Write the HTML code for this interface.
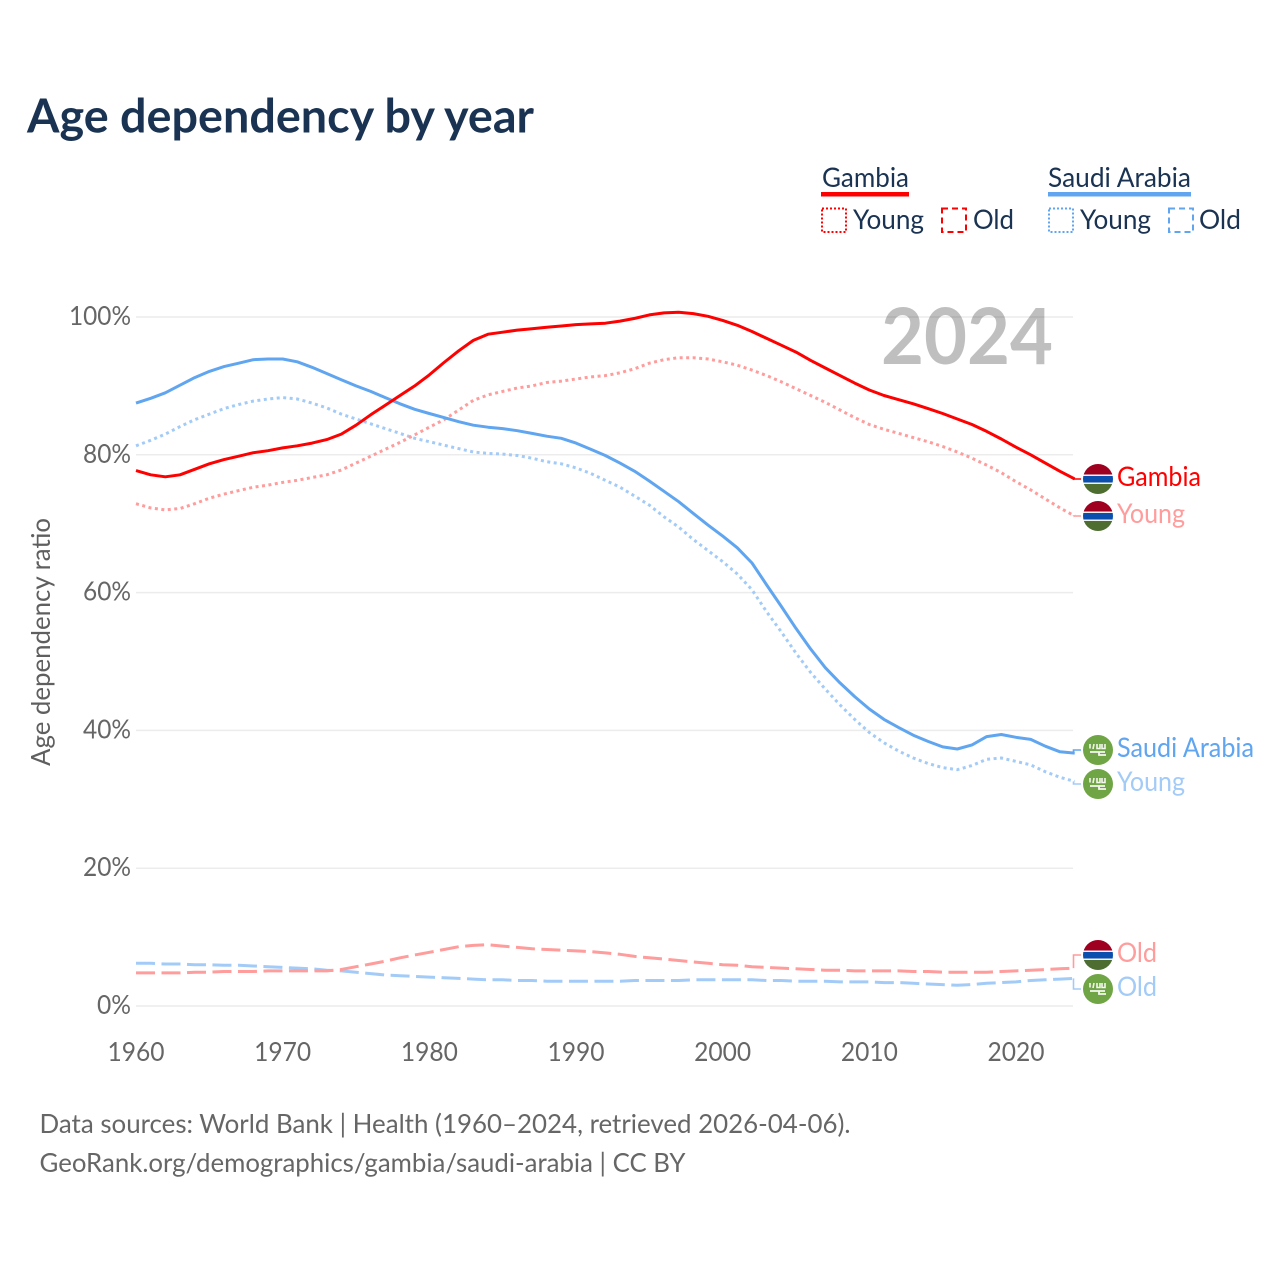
<!DOCTYPE html>
<html lang="en">
<head>
<meta charset="utf-8">
<title>Age dependency by year</title>
<style>
html,body{margin:0;padding:0;background:#fff;width:1280px;height:1280px;overflow:hidden}
svg{display:block}
text{font-family:"Lato","Carlito","Liberation Sans",sans-serif}
</style>
</head>
<body>
<svg id="chart" xmlns="http://www.w3.org/2000/svg" width="1280" height="1280" viewBox="0 0 1280 1280">
  <rect width="1280" height="1280" fill="#fff"/>
  <text x="27" y="132.500" font-size="47" font-weight="700" fill="#1a3352" textLength="507" lengthAdjust="spacingAndGlyphs">Age dependency by year</text>

  <g font-size="27" fill="#1a3352">
    <text x="822" y="187" textLength="87" lengthAdjust="spacingAndGlyphs">Gambia</text>
    <rect x="821" y="192" width="88" height="4.500" fill="#ff0000"/>
    <rect x="822" y="208.500" width="24" height="23.500" fill="none" stroke="#ff0000" stroke-width="2" stroke-dasharray="2,2"/>
    <text x="853" y="229" textLength="71" lengthAdjust="spacingAndGlyphs">Young</text>
    <rect x="942" y="208.500" width="24" height="23.500" fill="none" stroke="#ff0000" stroke-width="2" stroke-dasharray="6,4"/>
    <text x="973" y="229" textLength="41" lengthAdjust="spacingAndGlyphs">Old</text>
    <text x="1048" y="187" textLength="143" lengthAdjust="spacingAndGlyphs">Saudi Arabia</text>
    <rect x="1048" y="192" width="143" height="4.500" fill="#60a5f0"/>
    <rect x="1049" y="208.500" width="24" height="23.500" fill="none" stroke="#60a5f0" stroke-width="2" stroke-dasharray="2,2"/>
    <text x="1080" y="229" textLength="71" lengthAdjust="spacingAndGlyphs">Young</text>
    <rect x="1169" y="208.500" width="24" height="23.500" fill="none" stroke="#60a5f0" stroke-width="2" stroke-dasharray="6,4"/>
    <text x="1199" y="229" textLength="42" lengthAdjust="spacingAndGlyphs">Old</text>
  </g>

  <g id="grid"></g>
  <text x="881" y="364" font-size="78" font-weight="700" fill="#000" fill-opacity="0.25" textLength="172" lengthAdjust="spacingAndGlyphs">2024</text>
  <g id="yticks"></g>
  <g id="xticks"></g>
  <text transform="translate(50,642) rotate(-90)" text-anchor="middle" font-size="26" fill="#5f5f5f" textLength="248" lengthAdjust="spacingAndGlyphs">Age dependency ratio</text>
  <g id="series"></g>
  <g id="endlabels"></g>

  <g font-size="26" fill="#666">
    <text x="39.500" y="1133" textLength="811" lengthAdjust="spacingAndGlyphs">Data sources: World Bank | Health (1960–2024, retrieved 2026-04-06).</text>
    <text x="39.500" y="1172" textLength="646" lengthAdjust="spacingAndGlyphs">GeoRank.org/demographics/gambia/saudi-arabia | CC BY</text>
  </g>
</svg>
<script>
const startYear = 1960;
const xTickYears = [1960, 1970, 1980, 1990, 2000, 2010, 2020];
const yTickValues = [0, 20, 40, 60, 80, 100];

const gambiaTotal = [
  77.7,77.1,76.8,77.1,77.9,78.7,79.3,79.8,80.3,80.6,
  81.0,81.3,81.7,82.2,83.0,84.3,85.8,87.2,88.6,90.0,
  91.6,93.4,95.1,96.6,97.5,97.8,98.1,98.3,98.5,98.7,
  98.9,99.0,99.1,99.4,99.8,100.3,100.6,100.7,100.5,100.1,
  99.5,98.8,97.9,96.9,95.9,94.9,93.7,92.6,91.5,90.4,
  89.4,88.6,88.0,87.4,86.7,86.0,85.2,84.4,83.4,82.3,
  81.1,80.0,78.8,77.6,76.5];
const gambiaYoung = [
  72.9,72.3,72.0,72.2,72.9,73.7,74.3,74.8,75.3,75.6,
  76.0,76.3,76.7,77.1,77.8,78.8,79.8,80.8,81.8,82.9,
  84.0,85.1,86.5,87.9,88.7,89.2,89.7,90.0,90.5,90.7,
  91.0,91.3,91.5,91.9,92.5,93.3,93.8,94.1,94.1,93.9,
  93.5,93.0,92.3,91.5,90.6,89.6,88.6,87.6,86.5,85.4,
  84.4,83.7,83.1,82.5,81.9,81.2,80.4,79.5,78.5,77.4,
  76.1,74.9,73.6,72.3,71.1];
const gambiaOld = [
  4.8,4.8,4.8,4.8,4.9,4.9,5.0,5.0,5.0,5.1,
  5.1,5.1,5.1,5.1,5.3,5.7,6.1,6.5,7.0,7.4,
  7.8,8.2,8.6,8.8,8.9,8.7,8.5,8.3,8.2,8.1,
  8.0,7.9,7.7,7.5,7.2,7.0,6.8,6.6,6.4,6.2,
  6.0,5.9,5.7,5.6,5.5,5.4,5.3,5.2,5.2,5.1,
  5.1,5.1,5.1,5.0,5.0,4.9,4.9,4.9,4.9,5.0,
  5.1,5.2,5.3,5.4,5.5];
const saudiTotal = [
  87.5,88.2,89.0,90.1,91.2,92.1,92.8,93.3,93.8,93.9,
  93.9,93.5,92.7,91.8,90.9,90.0,89.2,88.3,87.4,86.6,
  86.0,85.4,84.8,84.3,84.0,83.8,83.5,83.1,82.7,82.4,
  81.7,80.8,79.9,78.8,77.6,76.2,74.7,73.2,71.5,69.8,
  68.2,66.5,64.3,61.1,58.0,54.8,51.8,49.1,46.9,44.9,
  43.1,41.6,40.4,39.3,38.4,37.6,37.3,37.9,39.1,39.4,
  39.0,38.7,37.7,36.9,36.7];
const saudiYoung = [
  81.3,82.1,83.0,84.1,85.1,85.9,86.7,87.3,87.8,88.1,
  88.3,88.1,87.5,86.8,85.9,85.2,84.5,83.8,83.1,82.4,
  81.9,81.4,80.9,80.4,80.2,80.1,79.9,79.5,79.0,78.7,
  78.1,77.3,76.3,75.3,74.0,72.7,71.0,69.5,67.7,66.1,
  64.5,62.7,60.4,57.2,54.3,51.2,48.4,46.0,43.7,41.6,
  39.7,38.2,37.0,36.0,35.2,34.6,34.3,34.9,35.8,36.0,
  35.5,35.0,34.0,33.2,32.6];
const saudiOld = [
  6.2,6.2,6.1,6.1,6.0,6.0,5.9,5.9,5.8,5.7,
  5.6,5.5,5.4,5.2,5.1,4.9,4.7,4.5,4.4,4.3,
  4.2,4.1,4.0,3.9,3.8,3.8,3.7,3.7,3.6,3.6,
  3.6,3.6,3.6,3.6,3.7,3.7,3.7,3.7,3.8,3.8,
  3.8,3.8,3.8,3.7,3.7,3.6,3.6,3.6,3.5,3.5,
  3.5,3.4,3.4,3.3,3.2,3.1,3.0,3.1,3.3,3.4,
  3.5,3.7,3.8,3.9,4.0];

const NS = 'http://www.w3.org/2000/svg';
const xScale = y => 136 + (y - 1960) * (1016 - 136) / 60;
const yScale = v => 1006 - v * 6.89;
const RED = '#ff0000', BLUE = '#60a5f0', RED_F = '#ff9c9c', BLUE_F = '#a3cbf7';

function mk(tag, attrs, parent) {
  const el = document.createElementNS(NS, tag);
  for (const k in attrs) el.setAttribute(k, attrs[k]);
  parent.appendChild(el);
  return el;
}

const gridG = document.getElementById('grid');
const yG = document.getElementById('yticks');
const xG = document.getElementById('xticks');
const seriesG = document.getElementById('series');
const labelsG = document.getElementById('endlabels');

yTickValues.forEach(v => {
  const line = mk('line', {x1: 136, x2: 1073, y1: yScale(v), y2: yScale(v), stroke: '#ececec', 'stroke-width': 1.5}, gridG);
  
  
  const t = mk('text', {x: 131, y: yScale(v) + 8, 'text-anchor': 'end', 'font-size': 26, fill: '#666'}, yG);
  
  
  t.setAttribute('textLength', String(v).length === 3 ? 62 : (String(v).length === 2 ? 48 : 34));
  t.setAttribute('lengthAdjust', 'spacingAndGlyphs');
  t.textContent = v + '%';
});
xTickYears.forEach(y => {
  const t = mk('text', {x: xScale(y), y: 1061, 'text-anchor': 'middle', 'font-size': 26, fill: '#666', textLength: 57, lengthAdjust: 'spacingAndGlyphs'}, xG);
  
  
  t.textContent = y;
});

const DOT = '3,3.5', DASH = '19,6.5';
const seriesDefs = [
  {name: 'saudi-old-line', values: saudiOld, color: BLUE_F, dash: DASH, labelY: 989},
  {name: 'gambia-old-line', values: gambiaOld, color: RED_F, dash: DASH, labelY: 955},
  {name: 'saudi-young-line', values: saudiYoung, color: BLUE_F, dash: DOT, labelY: 784},
  {name: 'gambia-young-line', values: gambiaYoung, color: RED_F, dash: DOT, labelY: 516},
  {name: 'saudi-total-line', values: saudiTotal, color: BLUE, dash: '', labelY: 750},
  {name: 'gambia-total-line', values: gambiaTotal, color: RED, dash: '', labelY: 479}
];
seriesDefs.forEach(s => {
  const pts = s.values.map((v, i) => xScale(startYear + i).toFixed(1) + ',' + yScale(v).toFixed(1));
  const p = mk('polyline', {points: pts.join(' '), fill: 'none', stroke: s.color, 'stroke-width': 3, 'stroke-linejoin': 'round'}, seriesG);
  if (s.dash) p.setAttribute('stroke-dasharray', s.dash);
  
  
  const ey = yScale(s.values[s.values.length - 1]).toFixed(1);
  const c = mk('polyline', {points: '1073.5,' + ey + ' 1073.5,' + s.labelY + ' 1081,' + s.labelY, fill: 'none', stroke: s.color, 'stroke-width': 1.6}, seriesG);
  
  
});

function gambiaFlag(cy) {
  const g = mk('g', {}, labelsG);
  
  
  const id = 'g' + cy;
  const cp = mk('clipPath', {id: id}, g);
  mk('circle', {cx: 1098, cy: cy, r: 15}, cp);
  const inner = mk('g', {'clip-path': 'url(#' + id + ')'}, g);
  mk('rect', {x: 1083, y: cy - 15, width: 30, height: 10.5, fill: '#a00020'}, inner);
  mk('rect', {x: 1083, y: cy - 4.5, width: 30, height: 10, fill: '#f2f2f2'}, inner);
  mk('rect', {x: 1083, y: cy - 3, width: 30, height: 6.5, fill: '#0a4fae'}, inner);
  mk('rect', {x: 1083, y: cy + 5, width: 30, height: 10, fill: '#4d6e30'}, inner);
}
function saudiFlag(cy) {
  const g = mk('g', {}, labelsG);
  
  
  mk('circle', {cx: 1098, cy: cy, r: 15, fill: '#6fa544'}, g);
  mk('path', {d: 'M1090 ' + (cy - 6) + 'l0 4.500M1094 ' + (cy - 6) + 'l-1 5M1097 ' + (cy - 6) + 'l0 4.500h3l0 -4.500M1102 ' + (cy - 6) + 'l0 4.500h3l0 -4.500', fill: 'none', stroke: '#f4f7ef', 'stroke-width': 1.6}, g);
  mk('path', {d: 'M1090 ' + (cy + 2) + 'H1105M1099 ' + (cy + 2) + 'V' + (cy + 5) + 'H1106', fill: 'none', stroke: '#f4f7ef', 'stroke-width': 1.8}, g);
}
gambiaFlag(479);
gambiaFlag(516);
saudiFlag(750);
saudiFlag(784);
gambiaFlag(955);
saudiFlag(989);

const endLabelText = ['Gambia', 'Young', 'Saudi Arabia', 'Young', 'Old', 'Old'];
const endLabelColor = [RED, RED_F, BLUE, BLUE_F, RED_F, BLUE_F];
const endLabelBase = [486, 523, 757, 791, 962, 996];
const endLabelWidth = [84, 68, 137, 68, 40, 40];
endLabelText.forEach((txt, i) => {
  const t = mk('text', {x: 1117, y: endLabelBase[i], 'font-size': 27, fill: endLabelColor[i], textLength: endLabelWidth[i], lengthAdjust: 'spacingAndGlyphs'}, labelsG);
  
  
  t.textContent = txt;
});
</script>
</body>
</html>
